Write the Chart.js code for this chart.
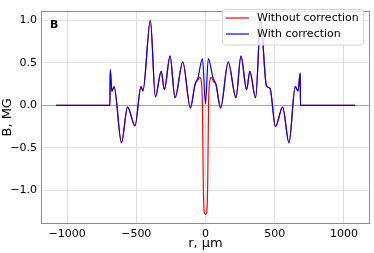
<!DOCTYPE html>
<html>
<head>
<meta charset="utf-8">
<script src="https://cdn.jsdelivr.net/npm/chart.js@4.4.0/dist/chart.umd.min.js"></script>
<style>
  html, body { margin: 0; padding: 0; background: #fff; }
</style>
</head>
<body>
<canvas id="c" width="374" height="253"></canvas>
<script>
// ── Data ────────────────────────────────────────────────────
var rWith = [-1080, -690, -688, -676, -660, -607, -563, -509, -466, -452, -398, -362, -320, -297, -256, -220, -164, -109, -75, -55, -22, 0,
             20, 55, 75, 109, 164, 220, 256, 297, 320, 362, 398, 440, 466, 505, 557, 603, 648, 668, 684, 686, 1080];
var bWith = [0, 0, 0.42, 0.165, 0.22, -0.44, -0.02, -0.24, 0.22, 0.17, 1.0, 0.10, 0.40, 0.185, 0.58, 0.09, 0.51, -0.03, 0.25, 0.32, 0.55, 0.02,
             0.55, 0.32, 0.25, -0.03, 0.51, 0.09, 0.58, 0.185, 0.40, 0.09, 1.0, 0.23, 0.20, -0.25, -0.02, -0.44, 0.22, 0.17, 0.38, 0, 0];

var rWithout = [-1080, -690, -688, -676, -660, -607, -563, -509, -466, -452, -398, -362, -320, -297, -256, -220, -164, -109, -75, -55, -42, -30, -22, -16, -9, 0,
                9, 16, 22, 30, 42, 58, 75, 109, 164, 220, 256, 297, 320, 362, 398, 440, 466, 505, 557, 603, 648, 668, 684, 686, 1080];
var bWithout = [0, 0, 0.42, 0.165, 0.22, -0.44, -0.02, -0.24, 0.22, 0.17, 1.0, 0.10, 0.40, 0.185, 0.58, 0.09, 0.51, -0.03, 0.25, 0.30, 0.33, 0.28, 0.0, -0.9, -1.26, -1.28,
                -1.26, -0.9, 0.0, 0.28, 0.33, 0.28, 0.25, -0.03, 0.51, 0.09, 0.58, 0.185, 0.40, 0.09, 1.0, 0.23, 0.20, -0.25, -0.02, -0.44, 0.22, 0.17, 0.38, 0, 0];

var xTicks = [-1000, -500, 0, 500, 1000];
var yTicks = [-1.0, -0.5, 0.0, 0.5, 1.0];
var seriesNames = ['Without correction', 'With correction'];
var seriesColors = ['#ff0000', '#0000ff'];

var FONT = 'DejaVu Sans';

function pts(xs, ys) {
  return xs.map(function (x, i) { return { x: x, y: ys[i] }; });
}
function minus(s) { return String(s).replace('-', '\u2212'); }

// ── Frame, panel letter, legend ─────────────────────────────
var decor = {
  id: 'decor',
  afterDraw: function (chart) {
    var ctx = chart.ctx, a = chart.chartArea;
    ctx.save();
    ctx.strokeStyle = '#8c8c8c';
    ctx.lineWidth = 1;
    ctx.strokeRect(Math.round(a.left) + 0.5, Math.round(a.top) + 0.5,
                   Math.round(a.right - a.left) - 1, Math.round(a.bottom - a.top) - 1);

    // panel letter
    ctx.fillStyle = '#000';
    ctx.font = 'bold 11px "' + FONT + '"';
    ctx.textBaseline = 'alphabetic';
    ctx.fillText('B', 50, 27.5);

    // legend box
    var lx = 222.5, ly = 9.5, lw = 141, lh = 35.5, r = 3;
    ctx.beginPath();
    ctx.moveTo(lx + r, ly);
    ctx.arcTo(lx + lw, ly, lx + lw, ly + lh, r);
    ctx.arcTo(lx + lw, ly + lh, lx, ly + lh, r);
    ctx.arcTo(lx, ly + lh, lx, ly, r);
    ctx.arcTo(lx, ly, lx + lw, ly, r);
    ctx.closePath();
    ctx.fillStyle = 'rgba(255,255,255,0.8)';
    ctx.fill();
    ctx.strokeStyle = '#d4d4d4';
    ctx.stroke();

    ctx.font = '11px "' + FONT + '"';
    ctx.textBaseline = 'middle';
    seriesNames.forEach(function (name, i) {
      var y = 18 + i * 16;
      ctx.strokeStyle = seriesColors[i];
      ctx.lineWidth = 1.2;
      ctx.beginPath();
      ctx.moveTo(226, y);
      ctx.lineTo(249, y);
      ctx.stroke();
      ctx.fillStyle = '#000';
      ctx.fillText(name, 257, y + 0.5);
    });
    ctx.restore();
  }
};

new Chart(document.getElementById('c'), {
  type: 'line',
  data: {
    datasets: [
      { label: seriesNames[0], data: pts(rWithout, bWithout), borderColor: seriesColors[0],
        borderWidth: 1.2, pointRadius: 0, cubicInterpolationMode: 'monotone', order: 2 },
      { label: seriesNames[1], data: pts(rWith, bWith), borderColor: seriesColors[1],
        borderWidth: 1.2, pointRadius: 0, cubicInterpolationMode: 'monotone', order: 1 }
    ]
  },
  options: {
    responsive: false,
    animation: false,
    devicePixelRatio: 1,
    layout: { padding: { top: 4, right: 4, left: 0, bottom: 0 } },
    plugins: { legend: { display: false }, tooltip: { enabled: false } },
    scales: {
      x: {
        type: 'linear', min: -1188, max: 1188,
        afterBuildTicks: function (s) { s.ticks = xTicks.map(function (v) { return { value: v }; }); },
        afterFit: function (s) { s.height = 29; },
        grid: { color: '#dcdcdc', drawTicks: false },
        border: { display: false },
        ticks: { color: '#000', padding: 4, maxRotation: 0, font: { family: FONT, size: 11 },
                 callback: function (v) { return minus(v); } },
        title: { display: true, text: 'r, \u03bcm', color: '#000', padding: { top: 0, bottom: 2 },
                 font: { family: FONT, size: 13 } }
      },
      y: {
        min: -1.394, max: 1.114,
        afterBuildTicks: function (s) { s.ticks = yTicks.map(function (v) { return { value: v }; }); },
        afterFit: function (s) { s.width = 41; },
        grid: { drawTicks: false,
                color: function (c) { return c.tick && c.tick.value === 0 ? '#a0a0a0' : '#e4e4e4'; } },
        border: { display: false },
        ticks: { color: '#000', padding: 4, font: { family: FONT, size: 11 },
                 callback: function (v) { return minus(v.toFixed(1)); } },
        title: { display: true, text: 'B, MG', color: '#000', padding: { top: 0, bottom: 0 },
                 font: { family: FONT, size: 13 } }
      }
    }
  },
  plugins: [decor]
});
</script>
</body>
</html>
